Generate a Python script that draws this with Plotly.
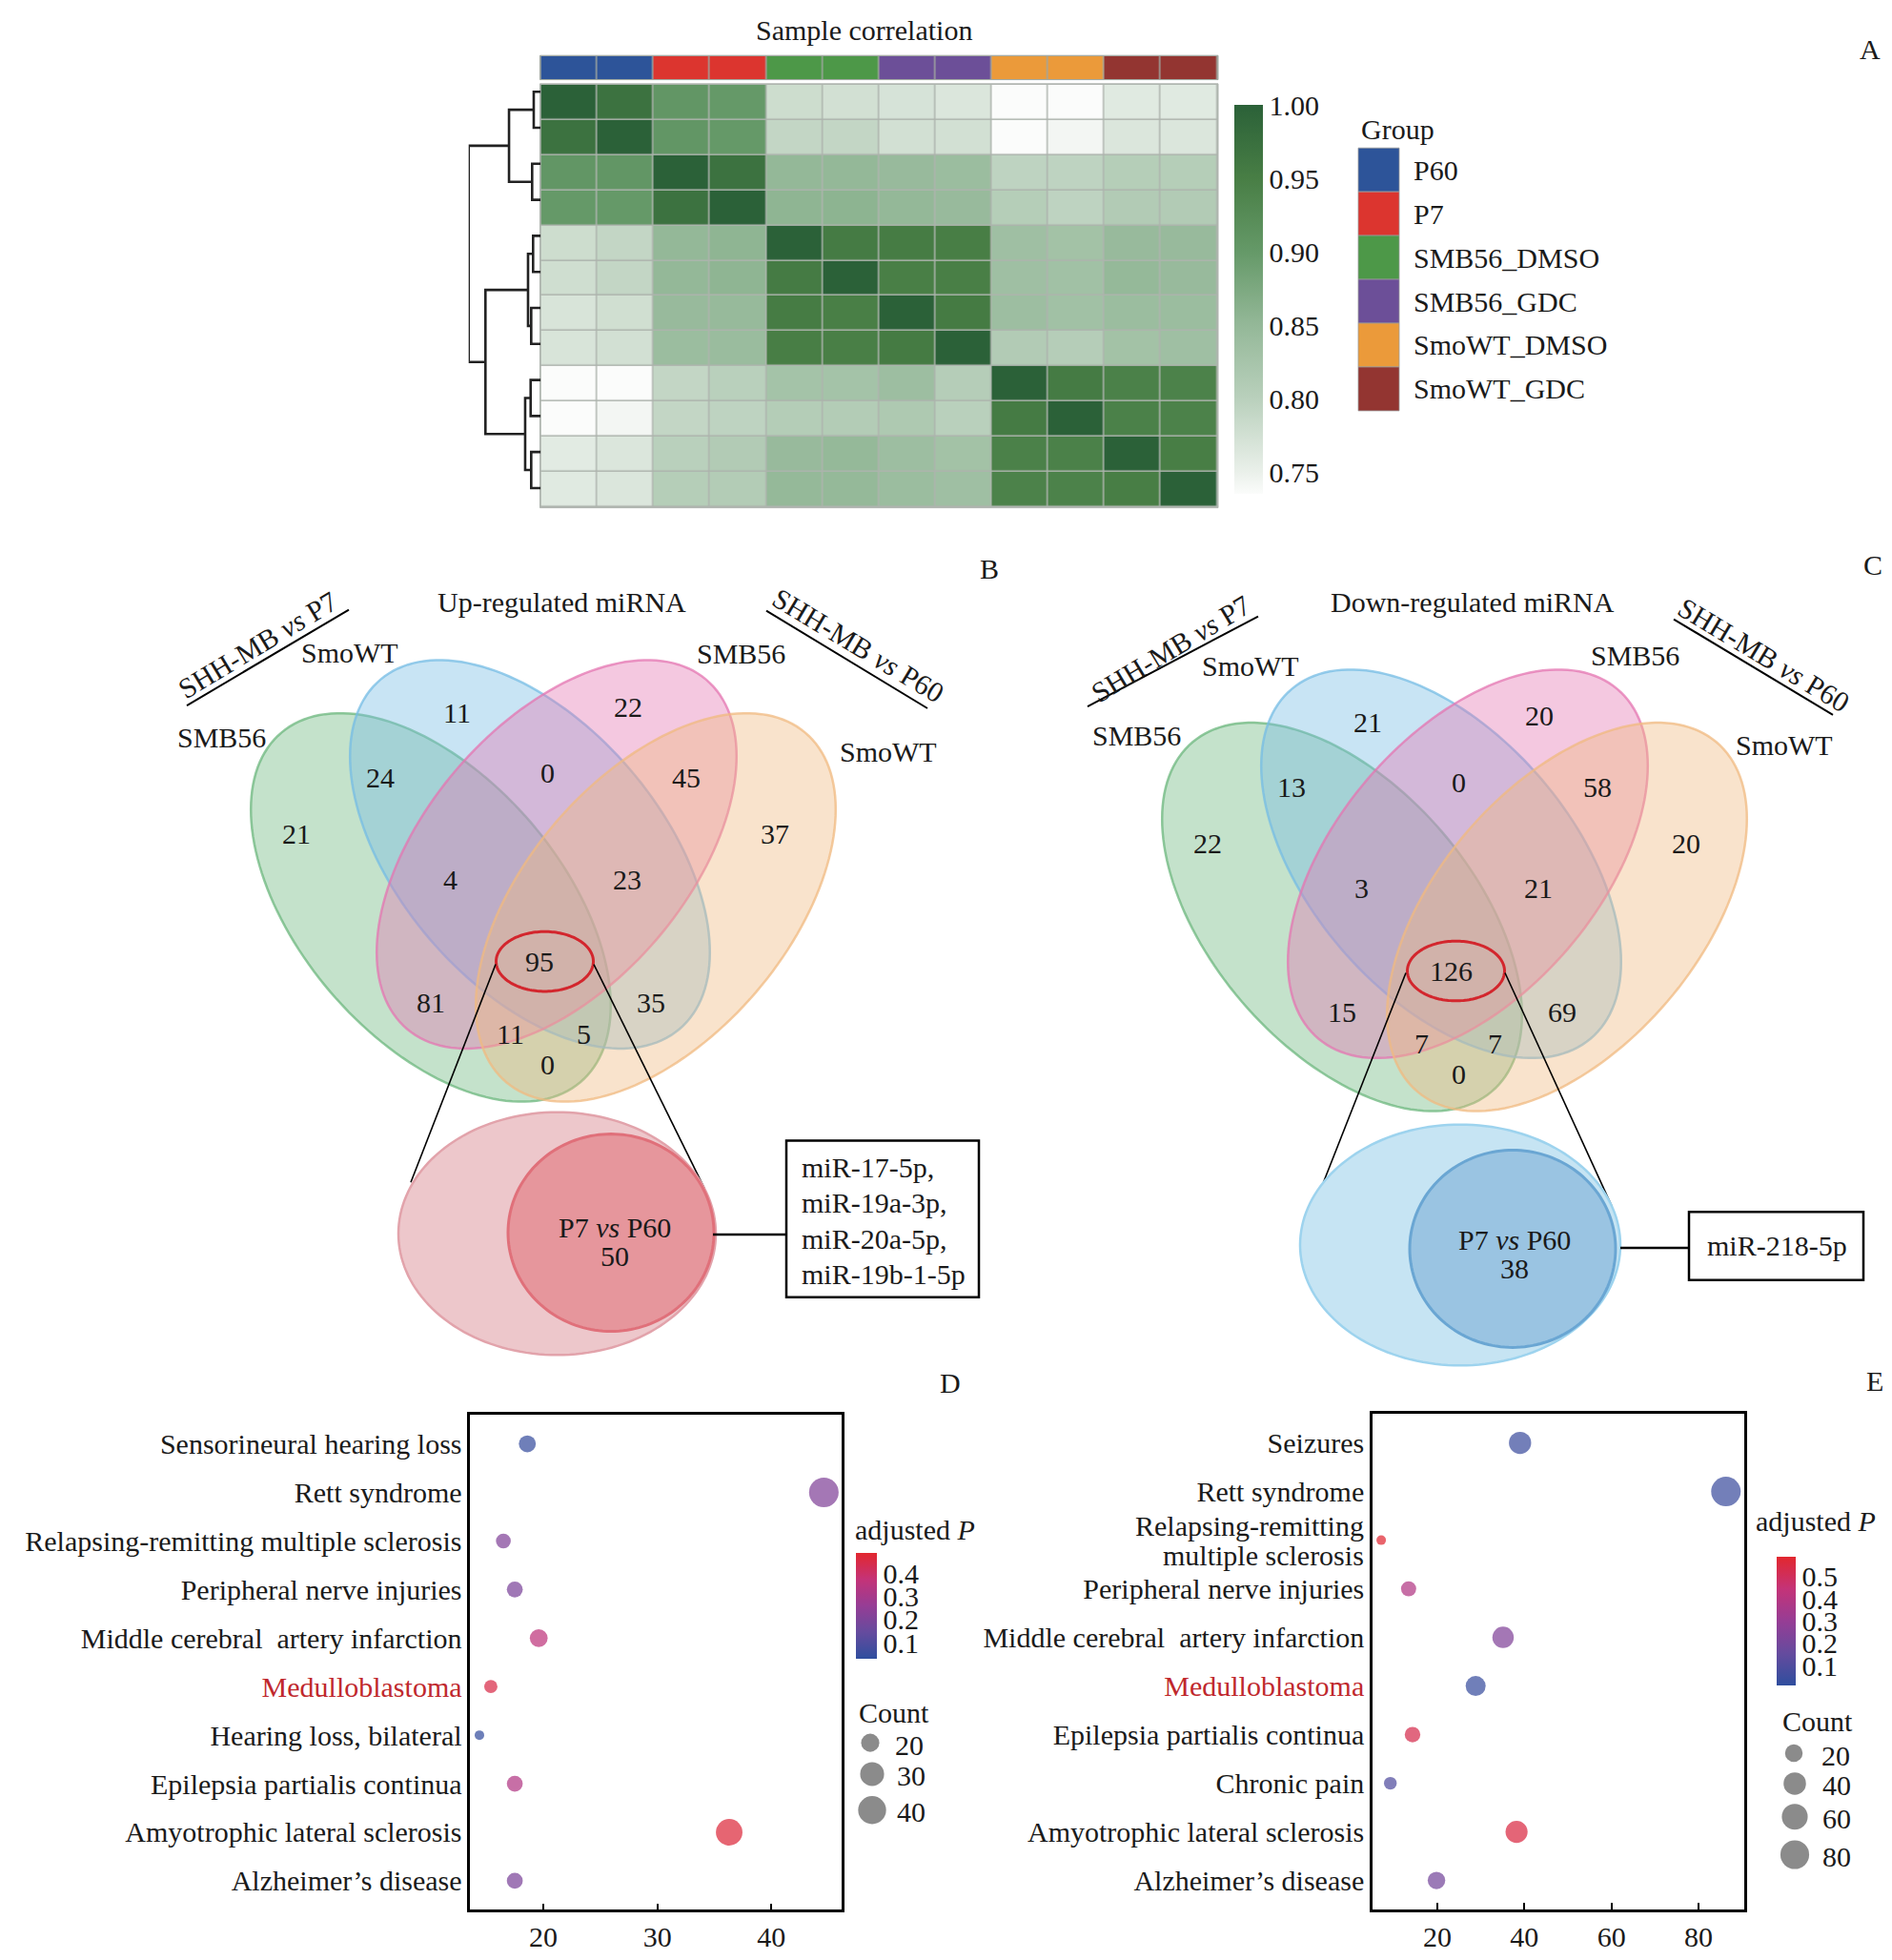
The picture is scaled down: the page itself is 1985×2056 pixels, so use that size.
import numpy as np
import plotly.graph_objects as go

# page (screenshot) size and body margin of the html page
PAGE_W, PAGE_H, BODY = 1985, 2056, 8
W, H = PAGE_W - 2 * BODY, PAGE_H - 2 * BODY
FONT = "Liberation Serif"
FS = 30
TXT = "#1a1a1a"


def X(px):
    return (px - BODY) / W


def Y(py):
    return 1 - (py - BODY) / H


# ------------------------------------------------------------------ data
group_names = ["P60", "P7", "SMB56_DMSO", "SMB56_GDC", "SmoWT_DMSO", "SmoWT_GDC"]
group_colors = ["#2D5499", "#DC352F", "#4D9848", "#6C4F98", "#EB9A3A", "#933531"]
sample_group_idx = [0, 0, 1, 1, 2, 2, 3, 3, 4, 4, 5, 5]

corr_matrix = [
    [1.000, 0.970, 0.905, 0.900, 0.780, 0.775, 0.770, 0.765, 0.735, 0.735, 0.760, 0.760],
    [0.970, 1.000, 0.905, 0.900, 0.790, 0.790, 0.775, 0.775, 0.735, 0.742, 0.765, 0.765],
    [0.905, 0.905, 1.000, 0.970, 0.850, 0.850, 0.845, 0.840, 0.795, 0.795, 0.805, 0.805],
    [0.900, 0.900, 0.970, 1.000, 0.855, 0.857, 0.850, 0.845, 0.805, 0.795, 0.810, 0.810],
    [0.780, 0.790, 0.850, 0.855, 1.000, 0.955, 0.953, 0.950, 0.835, 0.830, 0.845, 0.845],
    [0.778, 0.790, 0.850, 0.855, 0.955, 1.000, 0.948, 0.948, 0.835, 0.832, 0.848, 0.845],
    [0.768, 0.777, 0.845, 0.846, 0.953, 0.948, 1.000, 0.956, 0.838, 0.832, 0.840, 0.840],
    [0.768, 0.775, 0.840, 0.842, 0.950, 0.948, 0.956, 1.000, 0.810, 0.806, 0.830, 0.835],
    [0.735, 0.735, 0.790, 0.800, 0.828, 0.828, 0.838, 0.806, 1.000, 0.955, 0.945, 0.943],
    [0.735, 0.742, 0.790, 0.795, 0.807, 0.808, 0.815, 0.800, 0.955, 1.000, 0.945, 0.943],
    [0.758, 0.765, 0.800, 0.810, 0.845, 0.848, 0.838, 0.830, 0.945, 0.945, 1.000, 0.950],
    [0.760, 0.765, 0.805, 0.808, 0.848, 0.848, 0.840, 0.835, 0.943, 0.943, 0.950, 1.000],
]
corr_ticks = [0.75, 0.80, 0.85, 0.90, 0.95, 1.00]

# hierarchical clustering merges: (child a, child b, height); internal ids start at 12
dendro_merges = [
    (0, 1, 0.097), (2, 3, 0.119), (12, 13, 0.44),
    (4, 5, 0.106), (6, 7, 0.132), (15, 16, 0.176),
    (8, 9, 0.14), (10, 11, 0.132), (18, 19, 0.216),
    (17, 20, 0.767), (14, 21, 1.0),
]

venn_up_counts = [21, 11, 22, 37, 24, 0, 45, 4, 23, 95, 81, 35, 11, 5, 0]
venn_down_counts = [22, 21, 20, 20, 13, 0, 58, 3, 21, 126, 15, 69, 7, 7, 0]
up_common_p7_vs_p60 = 50
down_common_p7_vs_p60 = 38
up_mirnas = ["miR-17-5p,", "miR-19a-3p,", "miR-20a-5p,", "miR-19b-1-5p"]
down_mirnas = ["miR-218-5p"]

d_terms = ["Sensorineural hearing loss", "Rett syndrome",
           "Relapsing-remitting multiple sclerosis", "Peripheral nerve injuries",
           "Middle cerebral\u00a0 artery infarction", "Medulloblastoma",
           "Hearing loss, bilateral", "Epilepsia partialis continua",
           "Amyotrophic lateral sclerosis", "Alzheimer\u2019s disease"]
d_count = [18.6, 44.6, 16.5, 17.5, 19.6, 15.4, 14.4, 17.5, 36.3, 17.5]
d_padj = [0.05, 0.21, 0.21, 0.20, 0.36, 0.45, 0.04, 0.33, 0.47, 0.20]
d_xticks = [20, 30, 40]
d_size_legend = [20, 30, 40]
d_p_ticks = [0.1, 0.2, 0.3, 0.4]

e_terms = ["Seizures", "Rett syndrome", "Relapsing-remitting\nmultiple sclerosis",
           "Peripheral nerve injuries", "Middle cerebral\u00a0 artery infarction",
           "Medulloblastoma", "Epilepsia partialis continua", "Chronic pain",
           "Amyotrophic lateral sclerosis", "Alzheimer\u2019s disease"]
e_count = [39.0, 86.3, 7.1, 13.4, 35.1, 28.8, 14.3, 9.2, 38.2, 19.8]
e_padj = [0.05, 0.05, 0.58, 0.39, 0.24, 0.04, 0.53, 0.10, 0.55, 0.20]
e_xticks = [20, 40, 60, 80]
e_size_legend = [20, 40, 60, 80]
e_p_ticks = [0.1, 0.2, 0.3, 0.4, 0.5]

highlight_term = "Medulloblastoma"

# ------------------------------------------------------------------ helpers
shapes = []
annotations = []


def ann(x, y, text, size=FS, color=TXT, xanchor="center", yanchor="middle", angle=0):
    annotations.append(dict(x=X(x), y=Y(y), xref="paper", yref="paper", text=text,
                            showarrow=False, xanchor=xanchor, yanchor=yanchor,
                            textangle=angle, font=dict(family=FONT, size=size, color=color)))


def line(x0, y0, x1, y1, color="black", width=2):
    shapes.append(dict(type="line", xref="paper", yref="paper", x0=X(x0), y0=Y(y0),
                       x1=X(x1), y1=Y(y1), line=dict(color=color, width=width)))


def rect(x0, y0, x1, y1, fill="rgba(0,0,0,0)", lc="black", lw=2, layer="above"):
    shapes.append(dict(type="rect", xref="paper", yref="paper", x0=X(x0), y0=Y(y0),
                       x1=X(x1), y1=Y(y1), fillcolor=fill, layer=layer,
                       line=dict(color=lc, width=lw)))


def ellipse(cx, cy, a, b, ang_deg, fill, lc, lw, n=160):
    t = np.linspace(0, 2 * np.pi, n, endpoint=False)
    ang = np.deg2rad(ang_deg)
    px = cx + a * np.cos(t) * np.cos(ang) - b * np.sin(t) * np.sin(ang)
    py = cy + a * np.cos(t) * np.sin(ang) + b * np.sin(t) * np.cos(ang)
    path = "M " + " L ".join(f"{X(u):.5f},{Y(v):.5f}" for u, v in zip(px, py)) + " Z"
    shapes.append(dict(type="path", xref="paper", yref="paper", path=path,
                       fillcolor=fill, line=dict(color=lc, width=lw), layer="above"))


fig = go.Figure()

# ------------------------------------------------------------------ panel A heatmap
zmin, zmax = 0.735, 1.0
corr_stops = [(0.735, "#FBFCFB"), (0.75, "#EAF0EA"), (0.80, "#B9D0BC"), (0.85, "#94B898"),
              (0.90, "#659968"), (0.95, "#487E45"), (1.00, "#2B6138")]
corr_scale = [[(v - zmin) / (zmax - zmin), c] for v, c in corr_stops]

hm_x0, hm_x1, hm_y0, hm_y1 = 567.5, 1277, 89.3, 534.5
rect(hm_x0 - 1, hm_y0 - 1, hm_x1 + 1, hm_y1 + 1, fill="#AEB4AE", lc="#AEB4AE", lw=1, layer="below")
rect(hm_x0 - 1, 58.5, hm_x1 + 1, 84, fill="#9FA69F", lc="#9FA69F", lw=1, layer="below")

fig.add_trace(go.Heatmap(
    z=corr_matrix, x=list(range(12)), y=list(range(12)), zmin=zmin, zmax=zmax,
    colorscale=corr_scale, xgap=1.5, ygap=1.5, hoverinfo="skip",
    colorbar=dict(x=X(1295), xanchor="left", y=Y(316), yanchor="middle",
                  lenmode="pixels", len=408, thicknessmode="pixels", thickness=30,
                  xpad=0, ypad=0, outlinewidth=0, ticks="",
                  tickvals=corr_ticks, ticktext=[f"{v:.2f}" for v in corr_ticks],
                  tickfont=dict(family=FONT, size=FS, color=TXT)),
    xaxis="x", yaxis="y"))

n_grp = len(group_colors)
grp_scale = []
for i, c in enumerate(group_colors):
    grp_scale += [[i / n_grp, c], [(i + 1) / n_grp, c]]
fig.add_trace(go.Heatmap(
    z=[sample_group_idx], x=list(range(12)), y=[0], zmin=-0.5, zmax=n_grp - 0.5,
    colorscale=grp_scale, showscale=False, xgap=1.5, ygap=0, hoverinfo="skip",
    xaxis="x2", yaxis="y2"))

# dendrogram
pos = {i: float(i) for i in range(12)}
hgt = {i: 0.0 for i in range(12)}
dx, dy = [], []
for k, (a, b, h) in enumerate(dendro_merges):
    nid = 12 + k
    dx += [hgt[a], h, h, hgt[b], None]
    dy += [pos[a], pos[a], pos[b], pos[b], None]
    pos[nid] = (pos[a] + pos[b]) / 2
    hgt[nid] = h
fig.add_trace(go.Scatter(x=dx, y=dy, mode="lines", line=dict(color="#222222", width=2.6),
                         hoverinfo="skip", cliponaxis=False, xaxis="x3", yaxis="y3"))

ann(906, 32, "Sample correlation")
ann(1426, 136, "Group", xanchor="left")
sw_top, sw_h = 156, 46.2
for i, (g, c) in enumerate(zip(group_names, group_colors)):
    rect(1425, sw_top + i * sw_h, 1468, sw_top + (i + 1) * sw_h, fill=c, lc="#9a9a9a", lw=0.8)
    ann(1481, sw_top + (i + 0.5) * sw_h, g, xanchor="left")

# ------------------------------------------------------------------ Venn panels B & C
set_fill = ["rgba(108,183,125,0.4)", "rgba(118,188,228,0.4)",
            "rgba(228,118,178,0.4)", "rgba(240,185,128,0.4)"]
set_line = ["rgba(108,183,125,0.75)", "rgba(118,188,228,0.75)",
            "rgba(228,118,178,0.75)", "rgba(240,185,128,0.75)"]
ell_offsets = [(-118, 56, 49.6), (-14, 0, 49.6), (14, 0, -49.6), (118, 56, -49.6)]
region_offsets = [(-259, -22), (-91, -149), (89, -156), (243, -22), (-171, -81), (4, -86),
                  (150, -81), (-98, 26), (88, 26), (-4, 113), (-118, 156), (113, 156),
                  (-35, 189), (42, 189), (4, 222)]
ELL_A, ELL_B = 242, 138


def venn(axis_x, base_y, counts, title, labels):
    for (ox, oy, ang), f, lc in zip(ell_offsets, set_fill, set_line):
        ellipse(axis_x + ox, base_y + oy, ELL_A, ELL_B, ang, f, lc, 2.5)
    for (ox, oy), v in zip(region_offsets, counts):
        ann(axis_x + ox, base_y + oy, str(v))
    ellipse(axis_x + 1.5, base_y + 113, 51, 31.5, 0, "rgba(0,0,0,0)", "#D3262D", 3)
    ann(axis_x + 19, 635, title)
    for (x, y, t) in labels:
        ann(x, y, t)


venn(570, 901, venn_up_counts, "Up-regulated miRNA",
     [(367, 688, "SmoWT"), (232, 778, "SMB56"), (777, 689, "SMB56"), (932, 793, "SmoWT")])
venn(1526, 911, venn_down_counts, "Down-regulated miRNA",
     [(1312, 702, "SmoWT"), (1192, 776, "SMB56"), (1715, 691, "SMB56"), (1872, 786, "SmoWT")])

# comparison labels
ann(270, 680, "SHH-MB <i>vs</i> P7", angle=-31)
line(196, 744, 366, 643, width=2)
ann(900, 680, "SHH-MB <i>vs</i> P60", angle=31)
line(804, 644, 973, 747, width=2)
ann(1228, 684, "SHH-MB <i>vs</i> P7", angle=-31)
line(1141, 745, 1320, 650, width=2)
ann(1850, 690, "SHH-MB <i>vs</i> P60", angle=31)
line(1756, 653, 1923, 754, width=2)

# zoom lines and sub-venn (B)
line(520, 1017, 431, 1247, width=1.6)
line(623, 1017, 739, 1253, width=1.6)
ellipse(584.5, 1301, 166.5, 128, 0, "#EDC7CB", "#E2A3AB", 2.5)
ellipse(641, 1300, 108, 104, 0, "#E6969C", "#E0707A", 3)
ann(645, 1294, "P7 <i>vs</i> P60")
ann(645, 1325, str(up_common_p7_vs_p60))
line(748, 1302, 825, 1302, width=2.5)
rect(825, 1203, 1027, 1368, lw=2.5)
for i, t in enumerate(up_mirnas):
    ann(839, 1231 + i * 37.7, t, xanchor="left")

# zoom lines and sub-venn (C)
line(1475, 1026, 1381, 1266, width=1.6)
line(1579, 1026, 1691, 1272, width=1.6)
ellipse(1532, 1313, 168, 127, 0, "#C6E4F3", "#9DD3EE", 2.5)
ellipse(1587, 1317, 108, 104, 0, "#9AC4E2", "#6AA6D3", 3)
ann(1589, 1308, "P7 <i>vs</i> P60")
ann(1589, 1338, str(down_common_p7_vs_p60))
line(1700, 1316, 1772, 1316, width=2.5)
rect(1772, 1278, 1955, 1350, lw=2.5)
ann(1864, 1314, down_mirnas[0])

# ------------------------------------------------------------------ panels D & E dot plots
p_scale = [[0, "#2F4E9E"], [0.25, "#654B9E"], [0.5, "#963D95"], [0.75, "#C43378"],
           [1, "#E2272E"]]


def size_fn(vals, cmin, cmax, dmin=10, dmax=31):
    v = np.asarray(vals, dtype=float)
    r = np.clip((v - cmin) / (cmax - cmin), 0, 1)
    return dmin + (dmax - dmin) * np.sqrt(r)


def tick_text(terms):
    out = []
    for t in terms:
        if "\n" in t:
            out.append("")          # drawn as tightly spaced annotation lines instead
        elif t == highlight_term:
            out.append(f"<span style='color:#C0282D'>{t}</span>")
        else:
            out.append(t)
    return out


def multiline_labels(terms, right_x, y_first, step):
    for i, t in enumerate(terms):
        if "\n" in t:
            parts = t.split("\n")
            for j, p in enumerate(parts):
                off = (j - (len(parts) - 1) / 2) * 31
                ann(right_x, y_first + i * step + off, p, xanchor="right")


def dotplot(terms, counts, padj, xa, ya, pmin, pmax, cb_x, cb_y, cb_len, cb_th, pticks):
    cmin, cmax = min(counts), max(counts)
    fig.add_trace(go.Scatter(
        x=counts, y=list(range(len(terms))), mode="markers", hoverinfo="skip",
        cliponaxis=False,
        marker=dict(size=size_fn(counts, cmin, cmax), color=padj, colorscale=p_scale,
                    cmin=pmin, cmax=pmax, opacity=0.72, line=dict(width=0),
                    colorbar=dict(x=X(cb_x), xanchor="left", y=Y(cb_y), yanchor="middle",
                                  lenmode="pixels", len=cb_len, thicknessmode="pixels",
                                  thickness=cb_th, xpad=0, ypad=0, outlinewidth=0,
                                  ticks="", tickvals=pticks,
                                  ticktext=[f"{p:.1f}" for p in pticks],
                                  tickfont=dict(family=FONT, size=FS, color=TXT))),
        xaxis=xa, yaxis=ya))
    return cmin, cmax


d_cmin, d_cmax = dotplot(d_terms, d_count, d_padj, "x4", "y4", 0.03, 0.49,
                         898, 1693.5, 111, 22, d_p_ticks)
e_cmin, e_cmax = dotplot(e_terms, e_count, e_padj, "x5", "y5", 0.012, 0.59,
                         1864, 1709.5, 135, 20, e_p_ticks)
multiline_labels(e_terms, 1433, 1522, 51.2)

# size legends (canvas axis in page pixel units)
d_leg_xy = [(913, 1838), (915, 1871), (915, 1909)]
e_leg_xy = [(1882, 1849), (1883, 1881), (1883, 1916), (1883, 1956)]
fig.add_trace(go.Scatter(
    x=[p[0] for p in d_leg_xy] + [p[0] for p in e_leg_xy],
    y=[p[1] for p in d_leg_xy] + [p[1] for p in e_leg_xy],
    mode="markers", hoverinfo="skip", cliponaxis=False,
    marker=dict(color="#5a5a5a", line=dict(width=0),
                size=list(size_fn(d_size_legend, d_cmin, d_cmax)) +
                list(size_fn(e_size_legend, e_cmin, e_cmax))),
    xaxis="x6", yaxis="y6"))
for (x, y), v in zip(d_leg_xy, d_size_legend):
    ann(x + 24, y + 2, str(v), xanchor="left")
for (x, y), v in zip(e_leg_xy, e_size_legend):
    ann(x + 27, y + 2, str(v), xanchor="left")

ann(895, 1613, "adjusted <i>P</i>", xanchor="left")
ann(1840, 1604, "adjusted <i>P</i>", xanchor="left")
ann(899, 1806, "Count", xanchor="left")
ann(1868, 1815, "Count", xanchor="left")

# panel letters
for (x, y, t) in [(1962, 52, "A"), (1038, 600, "B"), (1965, 596, "C"),
                  (997, 1458, "D"), (1967, 1456, "E")]:
    ann(x, y, t)

# ------------------------------------------------------------------ layout
hidden = dict(visible=False, showgrid=False, zeroline=False, fixedrange=True)
dot_x = dict(showline=True, mirror=True, linecolor="black", linewidth=2.5, showgrid=False,
             zeroline=False, ticks="inside", ticklen=7, tickwidth=2, tickcolor="black",
             tickfont=dict(family=FONT, size=FS, color=TXT))
dot_y = dict(showline=True, mirror=True, linecolor="black", linewidth=2.5, showgrid=False,
             zeroline=False, ticks="", tickfont=dict(family=FONT, size=FS, color=TXT))

# linear count axes fitted to the tick marks of the reference panels
d_px_per_unit = (809.3 - 570.0) / 20
e_px_per_unit = (1782.0 - 1508.0) / 60
d_range = [20 - (570.0 - 493.3) / d_px_per_unit, 40 + (882.7 - 809.3) / d_px_per_unit]
e_range = [20 - (1508.0 - 1440.0) / e_px_per_unit, 80 + (1830.0 - 1782.0) / e_px_per_unit]

fig.update_layout(
    width=W, height=H, margin=dict(l=0, r=0, t=0, b=0),
    paper_bgcolor="white", plot_bgcolor="rgba(0,0,0,0)", showlegend=False,
    font=dict(family=FONT, size=FS, color=TXT),
    xaxis=dict(domain=[X(hm_x0), X(hm_x1)], range=[-0.5, 11.5], **hidden),
    yaxis=dict(domain=[Y(hm_y1), Y(hm_y0)], range=[11.5, -0.5], **hidden),
    xaxis2=dict(domain=[X(hm_x0), X(hm_x1)], range=[-0.5, 11.5], anchor="y2", **hidden),
    yaxis2=dict(domain=[Y(83.3), Y(59.3)], range=[0.5, -0.5], anchor="x2", **hidden),
    xaxis3=dict(domain=[X(491.7), X(567.3)], range=[1.0, 0.0], anchor="y3", **hidden),
    yaxis3=dict(domain=[Y(533.7), Y(77.7)], range=[11.5, -0.5], anchor="x3", **hidden),
    xaxis4=dict(domain=[X(493.3), X(882.7)], range=d_range, anchor="y4",
                tickvals=d_xticks, **dot_x),
    yaxis4=dict(domain=[Y(2014.3), Y(1492)], range=[9.6, -0.6], anchor="x4",
                tickvals=list(range(len(d_terms))), ticktext=tick_text(d_terms), **dot_y),
    xaxis5=dict(domain=[X(1440), X(1830)], range=e_range, anchor="y5",
                tickvals=e_xticks, **dot_x),
    yaxis5=dict(domain=[Y(2014), Y(1491)], range=[9.6, -0.6], anchor="x5",
                tickvals=list(range(len(e_terms))), ticktext=tick_text(e_terms), **dot_y),
    xaxis6=dict(domain=[0, 1], range=[BODY, BODY + W], anchor="y6", **hidden),
    yaxis6=dict(domain=[0, 1], range=[BODY + H, BODY], anchor="x6", **hidden),
    shapes=shapes, annotations=annotations,
)

fig.write_html("out.html")
